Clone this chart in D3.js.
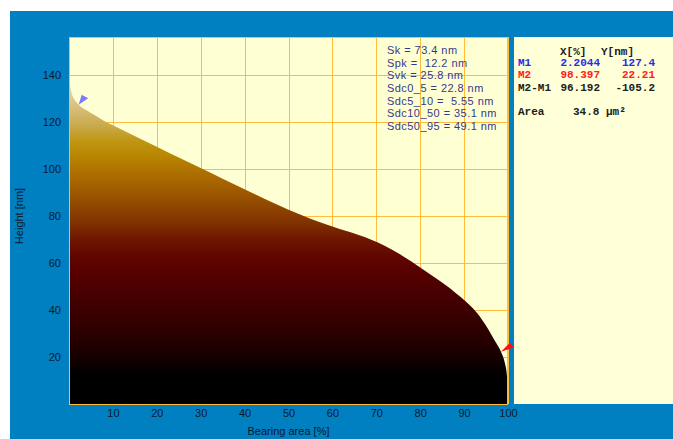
<!DOCTYPE html>
<html>
<head>
<meta charset="utf-8">
<script src="https://cdn.jsdelivr.net/npm/d3@7"></script>
<style>
  html, body { margin: 0; padding: 0; background: #ffffff; }
  svg { display: block; }
  .axis text { font-family: "Liberation Sans", Arial, sans-serif; font-size: 11px; fill: #0b1a2b; }
</style>
</head>
<body>
<svg id="chart" width="673" height="439"></svg>
<script>
// Bearing-area (Abbott-Firestone) curve: bearing ratio [%] vs. height [nm]
const bearing = [0, 0.2, 0.6, 1.2, 2.2044, 4, 6, 8, 10, 13, 16, 20, 25, 30, 35, 40, 45, 50, 55, 60, 63, 66, 69, 72, 75, 78, 80, 83, 86, 88, 90, 92, 94, 95.5, 97, 98.397, 99.3, 99.7, 99.9, 100];
const height  = [143, 137, 132.5, 129.8, 127.4, 125, 122.8, 120.5, 118.6, 115.9, 113.1, 109.5, 104.9, 100.4, 95.9, 91.4, 86.9, 82.65, 78.85, 75.55, 73.75, 71.95, 69.85, 67.3, 64.15, 60.6, 58.1, 54.3, 50.3, 47.4, 44.3, 40.7, 36.1, 31.8, 26.9, 22.21, 17.3, 13, 8.5, 0];

const xTicks = [10, 20, 30, 40, 50, 60, 70, 80, 90, 100];
const yTicks = [20, 40, 60, 80, 100, 120, 140];

// Functional parameters of the curve
const paramNames  = ["Sk", "Spk", "Svk", "Sdc0_5", "Sdc5_10", "Sdc10_50", "Sdc50_95"];
const paramValues = ["73.4", "12.2", "25.8", "22.8", "5.55", "35.1", "49.1"];
const paramGaps   = [" ", "  ", " ", " ", "  ", " ", " "];

// Cursor markers
const markerNames  = ["M1", "M2"];
const markerX      = [2.2044, 98.397];
const markerY      = [127.4, 22.21];
const markerColors = ["#2a2ae6", "#ff2020"];
const markerFills  = ["#7b7bff", "#ff1010"];
const areaText = "34.8 \u00b5m\u00b2";

// Height-coded colour ramp (value in nm -> colour)
const rampValues = [0, 13, 16, 25, 35, 45, 55, 62, 70, 78, 86, 94, 100, 106, 112, 118, 124, 130, 136, 145, 156];
const rampColors = ["#000000", "#000000", "#0c0000", "#220000", "#340000", "#440000", "#560000", "#600400", "#6e1600",
                    "#823400", "#944c00", "#a66400", "#b07400", "#b98800", "#bf9614", "#c9a848", "#d3b870", "#dfca94",
                    "#e9dab4", "#f6eed8", "#fffde8"];

const svg = d3.select("#chart");
const W = 673, H = 439;
const plot = { left: 69, right: 508, top: 37, bottom: 404 };
const yMax = 156.2;

const x = d3.scaleLinear().domain([0, 100]).range([plot.left, plot.right]);
const y = d3.scaleLinear().domain([0, yMax]).range([plot.bottom, plot.top]);

// Frame
svg.append("rect").attr("x", 10).attr("y", 11).attr("width", W - 10).attr("height", H - 11).attr("fill", "#0080c0");
svg.append("rect").attr("x", plot.left).attr("y", plot.top)
  .attr("width", plot.right - plot.left).attr("height", plot.bottom - plot.top).attr("fill", "#ffffd4");
// Readout panel
svg.append("rect").attr("x", 514).attr("y", plot.top).attr("width", W - 514).attr("height", plot.bottom - plot.top)
  .attr("fill", "#ffffd8");

// Grid
const grid = svg.append("g").attr("stroke", "#ffbb3a").attr("stroke-width", 1);
grid.selectAll("line.v").data(xTicks).join("line").attr("class", "v")
  .attr("x1", d => Math.round(x(d)) + 0.5).attr("x2", d => Math.round(x(d)) + 0.5)
  .attr("y1", plot.top).attr("y2", plot.bottom);
grid.selectAll("line.h").data(yTicks).join("line").attr("class", "h")
  .attr("y1", d => Math.round(y(d)) + 0.5).attr("y2", d => Math.round(y(d)) + 0.5)
  .attr("x1", plot.left).attr("x2", plot.right);

// Gradient fill keyed to height
const defs = svg.append("defs");
const grad = defs.append("linearGradient").attr("id", "heightRamp")
  .attr("gradientUnits", "userSpaceOnUse")
  .attr("x1", 0).attr("x2", 0).attr("y1", y(0)).attr("y2", y(yMax));
grad.selectAll("stop").data(rampValues).join("stop")
  .attr("offset", d => d / yMax)
  .attr("stop-color", (d, i) => rampColors[i]);

const pts = bearing.map((b, i) => [b, height[i]]);
const area = d3.area()
  .x(d => x(d[0]))
  .y0(y(0))
  .y1(d => y(d[1]))
  .curve(d3.curveMonotoneX);
svg.append("path").datum(pts).attr("d", area).attr("fill", "url(#heightRamp)");

// Plot border
svg.append("rect").attr("x", plot.left + 0.5).attr("y", plot.top + 0.5)
  .attr("width", plot.right - plot.left - 1).attr("height", plot.bottom - plot.top)
  .attr("fill", "none").attr("stroke", "#ffbb3a").attr("stroke-width", 1);

// Cursor markers (arrowheads pointing at the curve)
svg.selectAll("path.marker").data(markerX).join("path").attr("class", "marker")
  .attr("transform", (d, i) => `translate(${x(d)},${y(markerY[i])})`)
  .attr("d", (d, i) => i === 0 ? "M0,0 L3,-10 L9.5,-6.5 Z" : "M0,0 L9,-9 L13,-4.5 Z")
  .attr("fill", (d, i) => markerFills[i]);

// Axes
const yAxis = d3.axisLeft(y).tickValues(yTicks).tickSize(0).tickPadding(8);
svg.append("g").attr("class", "axis").attr("transform", `translate(${plot.left},0)`).call(yAxis)
  .call(g => g.select(".domain").remove());
const xAxis = d3.axisBottom(x).tickValues(xTicks).tickSize(0).tickPadding(5);
svg.append("g").attr("class", "axis").attr("transform", `translate(0,${plot.bottom})`).call(xAxis)
  .call(g => g.select(".domain").remove());

svg.append("text").attr("x", (plot.left + plot.right) / 2).attr("y", 434.5)
  .attr("text-anchor", "middle").attr("font-family", "Liberation Sans, Arial, sans-serif")
  .attr("font-size", 11).attr("fill", "#0b1a2b").text("Bearing area [%]");
svg.append("text").attr("transform", "translate(22.5,216) rotate(-90)")
  .attr("text-anchor", "middle").attr("font-family", "Liberation Sans, Arial, sans-serif")
  .attr("font-size", 11).attr("fill", "#0b1a2b").text("Height [nm]");

// Parameter list
svg.append("g").selectAll("text").data(paramNames).join("text")
  .attr("x", 387).attr("y", (d, i) => 54 + i * 12.65)
  .attr("xml:space", "preserve")
  .style("white-space", "pre")
  .attr("font-family", "Liberation Sans, Arial, sans-serif").attr("font-size", 11)
  .attr("letter-spacing", 0.45)
  .attr("fill", "#38388a")
  .text((d, i) => `${d} =${paramGaps[i]}${paramValues[i]} nm`);

// Readout panel text
const mono = "Liberation Mono, Courier New, monospace";
const panel = svg.append("g").attr("font-family", mono).attr("font-size", 11).attr("font-weight", "bold");
panel.append("text").attr("x", 560).attr("y", 54.5).attr("fill", "#202020").text("X[%]");
panel.append("text").attr("x", 601).attr("y", 54.5).attr("fill", "#202020").text("Y[nm]");

const rowY = [66.3, 78];
markerNames.forEach((name, i) => {
  panel.append("text").attr("x", 518).attr("y", rowY[i]).attr("fill", markerColors[i]).text(name);
  panel.append("text").attr("x", 600).attr("y", rowY[i]).attr("text-anchor", "end").attr("fill", markerColors[i])
    .text(markerX[i].toFixed(i === 0 ? 4 : 3));
  panel.append("text").attr("x", 655).attr("y", rowY[i]).attr("text-anchor", "end").attr("fill", markerColors[i])
    .text(i === 0 ? markerY[i].toFixed(1) : markerY[i].toFixed(2));
});
// Cursor difference, truncated to the readout precision
const dx = Math.trunc((markerX[1] - markerX[0]) * 1000) / 1000;
const dy = markerY[1] - markerY[0];
panel.append("text").attr("x", 518).attr("y", 90.7).attr("fill", "#202020").text("M2-M1");
panel.append("text").attr("x", 600).attr("y", 90.7).attr("text-anchor", "end").attr("fill", "#202020").text(dx.toFixed(3));
panel.append("text").attr("x", 655).attr("y", 90.7).attr("text-anchor", "end").attr("fill", "#202020").text(dy.toFixed(1));
panel.append("text").attr("x", 518).attr("y", 115.3).attr("fill", "#202020").text("Area");
panel.append("text").attr("x", 573).attr("y", 115.3).attr("fill", "#202020").text(areaText);
</script>
</body>
</html>
